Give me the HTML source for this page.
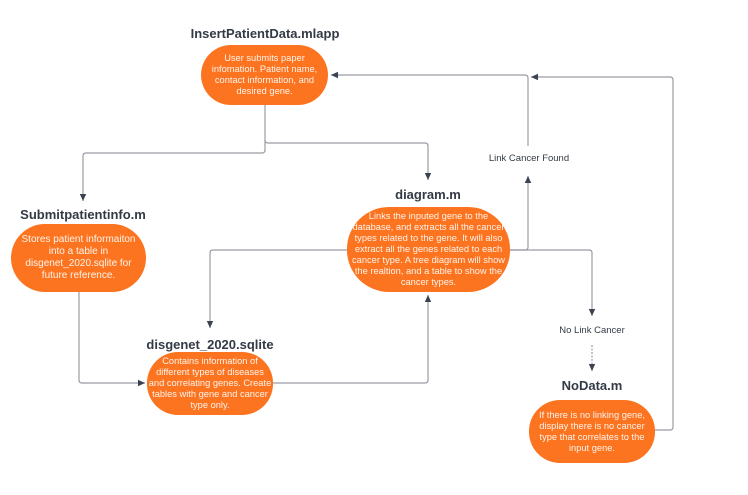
<!DOCTYPE html>
<html><head><meta charset="utf-8"><style>
body{margin:0;width:748px;height:495px;background:#fff;position:relative;overflow:hidden;font-family:"Liberation Sans",sans-serif}
.t{position:absolute;font-weight:bold;font-size:13px;color:#333a45;text-align:center;white-space:nowrap;transform:translateX(-50%)}
.b{position:absolute;background:#fc7420;color:#fff3ea;font-size:9.3px;line-height:11px;text-align:center;display:flex;align-items:center;justify-content:center;box-sizing:border-box;white-space:nowrap}
.l{position:absolute;font-size:9.5px;color:#333a45;white-space:nowrap;transform:translateX(-50%)}
svg{position:absolute;left:0;top:0}
</style></head><body>
<svg width="748" height="495">
<defs><marker id="a" markerWidth="8" markerHeight="8" refX="7" refY="4" orient="auto" markerUnits="userSpaceOnUse"><path d="M0,0.8 L7,4 L0,7.2 Z" fill="#3b4250"/></marker></defs>
<g fill="none" stroke="#9a9ca3" stroke-width="1.2">
<path d="M265,105 V150 Q265,153 262,153 H86 Q83,153 83,156 V201" marker-end="url(#a)"/>
<path d="M265,140 Q265,143 268,143 H425 Q428,143 428,146 V180" marker-end="url(#a)"/>
<path d="M347,250 H213 Q210,250 210,253 V328" marker-end="url(#a)"/>
<path d="M79,292 V380 Q79,383 82,383 H145" marker-end="url(#a)"/>
<path d="M273,383 H425 Q428,383 428,380 V295" marker-end="url(#a)"/>
<path d="M510,250 H525 Q528,250 528,247 V176" marker-end="url(#a)"/>
<path d="M528,146 V78 Q528,75 525,75 H331" marker-end="url(#a)"/>
<path d="M510,250 H589 Q592,250 592,253 V316" marker-end="url(#a)"/>
<path d="M592,345 V371" stroke-dasharray="2,1.5" marker-end="url(#a)"/>
<path d="M655,430 H670 Q673,430 673,427 V80 Q673,77 670,77 H531" marker-end="url(#a)"/>
</g></svg>
<div class="t" style="left:265px;top:26px">InsertPatientData.mlapp</div>
<div class="b" style="left:201px;top:45px;width:127px;height:60px;border-radius:30px">User submits paper<br>infomation. Patient name,<br>contact information, and<br>desired gene.</div>
<div class="t" style="left:83px;top:207px">Submitpatientinfo.m</div>
<div class="b" style="left:11px;top:224px;width:135px;height:68px;border-radius:34px;line-height:12px;font-size:10px">Stores patient informaiton<br>into a table in<br>disgenet_2020.sqlite for<br>future reference.</div>
<div class="t" style="left:428px;top:187px">diagram.m</div>
<div class="b" style="left:347px;top:207px;width:163px;height:85px;border-radius:42px">Links the inputed gene to the<br>database, and extracts all the cancer<br>types related to the gene. It will also<br>extract all the genes related to each<br>cancer type. A tree diagram will show<br>the realtion, and a table to show the<br>cancer types.</div>
<div class="t" style="left:210px;top:337px">disgenet_2020.sqlite</div>
<div class="b" style="left:147px;top:352px;width:126px;height:63px;border-radius:31px">Contains information of<br>different types of diseases<br>and correlating genes. Create<br>tables with gene and cancer<br>type only.</div>
<div class="t" style="left:592px;top:378px">NoData.m</div>
<div class="b" style="left:529px;top:400px;width:126px;height:63px;border-radius:31px">If there is no linking gene,<br>display there is no cancer<br>type that correlates to the<br>input gene.</div>
<div class="l" style="left:529px;top:153px">Link Cancer Found</div>
<div class="l" style="left:592px;top:325px">No Link Cancer</div>
</body></html>
